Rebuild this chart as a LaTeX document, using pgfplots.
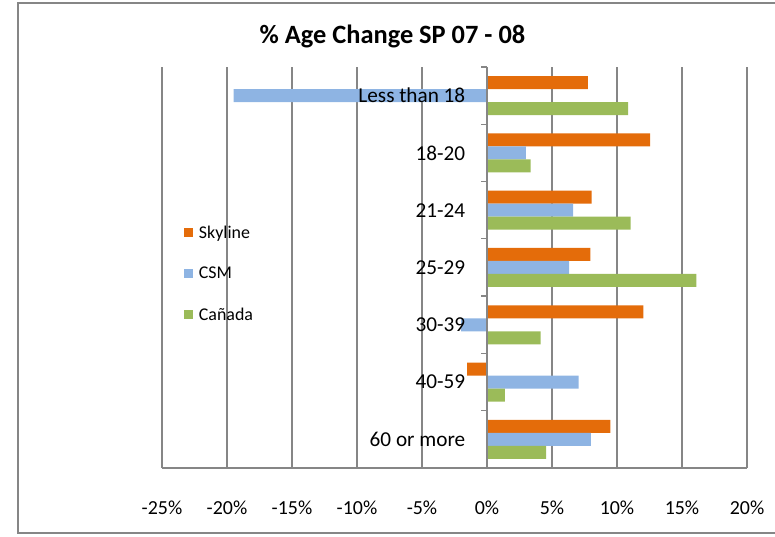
\documentclass[border=0pt]{standalone}
\usepackage{pgfplots}
\pgfplotsset{compat=1.18}
\usepackage{fontspec}
\setmainfont{Carlito}
\definecolor{sky}{RGB}{228,108,10}
\definecolor{csm}{RGB}{142,180,227}
\definecolor{can}{RGB}{155,187,89}
\definecolor{gridc}{RGB}{134,134,134}
\begin{document}
\begin{tikzpicture}[x=1bp,y=1bp]
\draw[gridc, line width=2bp] (18,3.5) rectangle (800,534);
\node[font=\fontsize{26.5}{31}\selectfont\bfseries] at (392.5,500.5) {\% Age Change SP 07 - 08};
\begin{axis}[
  set layers,
  every axis plot/.append style={on layer=axis grid},
  at={(162bp,69bp)}, anchor=south west,
  scale only axis, width=585bp, height=401bp,
  xbar, bar width=13bp,
  xmin=-25, xmax=20, ymin=-0.5, ymax=6.5,
  axis x line=bottom, axis y line=center,
  axis line style={-, draw=gridc, line width=1.3bp},
  every inner y axis line/.append style={-},
  every outer x axis line/.append style={-},
  xtick={-25,-20,...,20},
  xticklabels={-25\%,-20\%,-15\%,-10\%,-5\%,0\%,5\%,10\%,15\%,20\%},
  xmajorgrids, grid style={draw=gridc, line width=1.3bp},
  major x tick style={draw=none},
  hide obscured x ticks=false,
  xticklabel style={yshift=-25bp, font=\fontsize{20}{24}\selectfont},
  ytick={0,...,6},
  yticklabels={60 or more,40-59,30-39,25-29,21-24,18-20,Less than 18},
  yticklabel style={font=\fontsize{21.3}{25}\selectfont, xshift=-14bp},
  major y tick style={draw=none},
  minor ytick={-0.5,0.5,...,6.5},
  minor y tick style={draw=gridc, line width=1.3bp},
  minor tick length=6bp,
  tick align=outside,
  legend image code/.code={\fill[#1] (0bp,-4.5bp) rectangle (9bp,4.5bp);},
  legend cell align=left,
  legend style={draw=none, fill=none, font=\fontsize{18}{21}\selectfont,
    at={(0.032,0.615)}, anchor=north west, row sep=23.5bp,
    /tikz/every odd column/.append style={column sep=4bp}},
]
\addplot[fill=sky, draw=none, bar shift=13bp] coordinates {
  (9.49,0) (-1.53,1) (12.02,2) (7.96,3) (8.05,4) (12.54,5) (7.75,6)};
\addlegendentry{Skyline}
\addplot[fill=csm, draw=none, bar shift=0bp] coordinates {
  (7.99,0) (7.05,1) (-2.0,2) (6.31,3) (6.62,4) (2.99,5) (-19.5,6)};
\addlegendentry{CSM}
\addplot[fill=can, draw=none, bar shift=-13bp] coordinates {
  (4.55,0) (1.37,1) (4.12,2) (16.1,3) (11.04,4) (3.36,5) (10.86,6)};
\addlegendentry{Cañada}
\end{axis}
\pgfresetboundingbox
\path[use as bounding box] (0,0) rectangle (775,537);
\end{tikzpicture}
\end{document}
